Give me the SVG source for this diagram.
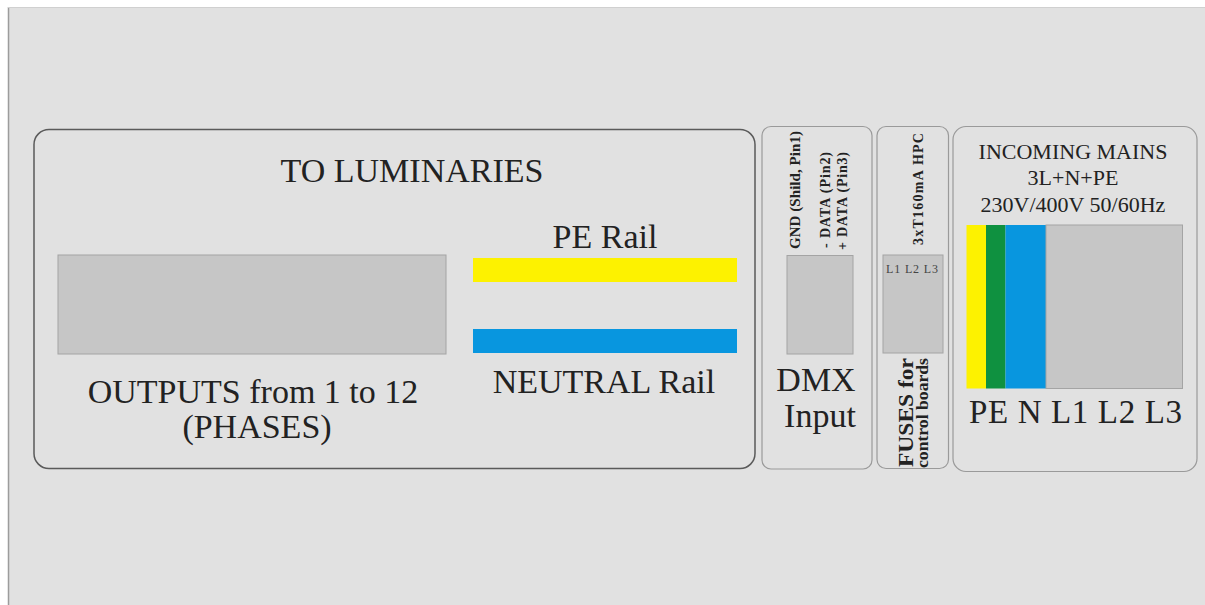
<svg xmlns="http://www.w3.org/2000/svg" width="1205" height="605" viewBox="0 0 1205 605">
  <style>
    text { font-family: "Liberation Serif", "DejaVu Serif", "Times New Roman", serif; fill: #222; }
    .big { font-size: 34px; }
    .bold { font-weight: bold; }
    .panel { fill: none; stroke: #9a9a9a; stroke-width: 1.2; }
    .slot { fill: #c6c6c6; stroke: #a4a4a4; stroke-width: 1; }
  </style>

  <!-- page background and panel plate -->
  <rect x="0" y="0" width="1205" height="605" fill="#ffffff"/>
  <rect x="8" y="7" width="1197" height="598" fill="#e1e1e1"/>
  <line x1="8.5" y1="7" x2="8.5" y2="605" stroke="#9c9c9c" stroke-width="1.5"/>
  <line x1="8" y1="7.5" x2="1205" y2="7.5" stroke="#d0d0d0" stroke-width="1"/>

  <!-- outputs / rails section -->
  <g id="luminaries">
    <rect x="34" y="129.5" width="721" height="339" rx="15" fill="none" stroke="#5a5a5a" stroke-width="1.5"/>
    <text class="big" x="412" y="182" text-anchor="middle">TO LUMINARIES</text>
    <rect class="slot" x="58" y="255" width="388" height="99"/>
    <text class="big" x="253" y="403" text-anchor="middle">OUTPUTS from 1 to 12</text>
    <text class="big" x="257" y="438" text-anchor="middle">(PHASES)</text>
    <text class="big" x="605" y="248" text-anchor="middle">PE Rail</text>
    <rect x="473" y="258" width="264" height="24" fill="#fdf200"/>
    <rect x="473" y="329" width="264" height="24" fill="#0896df"/>
    <text class="big" x="604" y="393" text-anchor="middle">NEUTRAL Rail</text>
  </g>

  <!-- DMX input section -->
  <g id="dmx">
    <rect class="panel" x="762" y="126.5" width="110" height="342.5" rx="9"/>
    <text class="bold" font-size="15" transform="translate(800,249) rotate(-90)" textLength="118">GND (Shild, Pin1)</text>
    <text class="bold" font-size="14" transform="translate(830,248) rotate(-90)" textLength="96">- DATA  (Pin2)</text>
    <text class="bold" font-size="14" transform="translate(847,250) rotate(-90)" textLength="98">+ DATA  (Pin3)</text>
    <rect class="slot" x="787" y="255.5" width="66" height="98.5"/>
    <text class="big" x="816" y="391" text-anchor="middle">DMX</text>
    <text class="big" x="820" y="427" text-anchor="middle">Input</text>
  </g>

  <!-- control board fuses -->
  <g id="fuses">
    <rect class="panel" x="877" y="126.5" width="71.5" height="342" rx="9"/>
    <text class="bold" font-size="14" transform="translate(923,245) rotate(-90)" textLength="112">3xT160mA HPC</text>
    <rect class="slot" x="883" y="255" width="60" height="98"/>
    <text font-size="12" style="fill:#444" x="886" y="273" textLength="52">L1 L2 L3</text>
    <text class="bold" font-size="20" transform="translate(913,467) rotate(-90)" textLength="109" lengthAdjust="spacingAndGlyphs">FUSES for</text>
    <text class="bold" font-size="17" transform="translate(928,468) rotate(-90)" textLength="110" lengthAdjust="spacingAndGlyphs">control boards</text>
  </g>

  <!-- incoming mains terminals -->
  <g id="mains">
    <rect class="panel" x="953" y="126.5" width="244" height="345" rx="13"/>
    <text font-size="22" x="1073" y="159" text-anchor="middle">INCOMING MAINS</text>
    <text font-size="22" x="1073" y="185" text-anchor="middle">3L+N+PE</text>
    <text font-size="22" x="1073" y="211.5" text-anchor="middle">230V/400V 50/60Hz</text>
    <rect x="966.5" y="225" width="19.5" height="163.5" fill="#fdf200"/>
    <rect x="986" y="225" width="19.5" height="163.5" fill="#0f9140"/>
    <rect x="1005.5" y="225" width="40.5" height="163.5" fill="#0896df"/>
    <rect class="slot" x="1046" y="225" width="136.5" height="163.5"/>
    <text font-size="33" x="969" y="423" textLength="213">PE N L1 L2 L3</text>
  </g>
</svg>
